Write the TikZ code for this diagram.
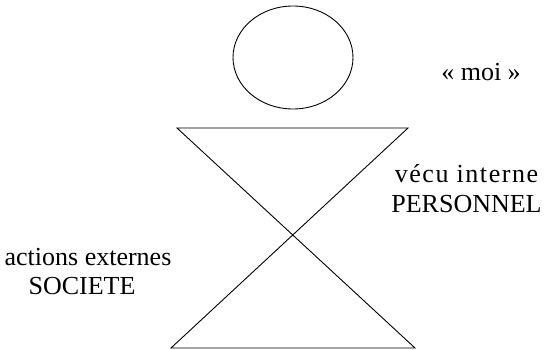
\documentclass[tikz,border=0pt]{standalone}
\usepackage{fontspec}
\setmainfont{Liberation Serif}
\begin{document}
\begin{tikzpicture}[x=1pt,y=-1pt,
  shapeline/.style={draw=black, line width=0.9pt},
  lbl/.style={inner sep=0pt, font=\fontsize{26}{30}\selectfont, align=center, anchor=base}]
\useasboundingbox (0,0) rectangle (546,350);
\draw[shapeline] (293,57.5) ellipse [x radius=60, y radius=51.5];
\coordinate (tl) at (177,128);
\coordinate (tr) at (408,128);
\coordinate (bl) at (171,348);
\coordinate (br) at (415,348);
\draw[shapeline] (tl) -- (tr) -- (bl) -- (br) -- cycle;
\node[lbl] (moi) at (481,81) {« moi »};
\node[lbl] (vecu) at (466.5,182) {\addfontfeature{LetterSpace=6}vécu interne};
\node[lbl] (perso) at (466.5,212) {PERSONNEL};
\node[lbl] (actions) at (88,265) {actions externes};
\node[lbl] (societe) at (82,294) {SOCIETE};
\end{tikzpicture}
\end{document}
